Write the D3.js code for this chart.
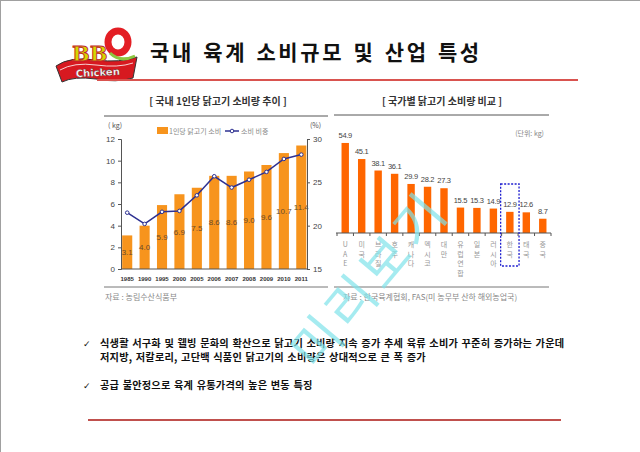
<!DOCTYPE html>
<html><head><meta charset="utf-8">
<script src="https://cdn.jsdelivr.net/npm/d3@7"></script>
<style>html,body{margin:0;padding:0;background:#fff;}svg{display:block;}</style>
</head><body>
<script>
// ---- data ----
const years = ["1985","1990","1995","2000","2005","2006","2007","2008","2009","2010","2011"];
const perCapita = [3.1,4.0,5.9,6.9,7.5,8.6,8.6,9.0,9.6,10.7,11.4];
const share = [21.5,20.2,21.6,21.7,23.5,25.7,24.4,25.3,26.2,27.7,28.2];
const leftTicks = [0,2,4,6,8,10,12];
const rightTicks = [15,20,25,30];
const countries = ["UAE","미국","브라질","호주","캐나다","멕시코","대만","유럽연합","일본","러시아","한국","태국","중국"];
const countryValues = [54.9,45.1,38.1,36.1,29.9,28.2,27.3,15.5,15.3,14.9,12.9,12.6,8.7];
const bullets = [
  ["식생활 서구화 및 웰빙 문화의 확산으로 닭고기 소비량 지속 증가 추세 육류 소비가 꾸준히 증가하는 가운데","저지방, 저칼로리, 고단백 식품인 닭고기의 소비량은 상대적으로 큰 폭 증가"],
  ["공급 불안정으로 육계 유통가격의 높은 변동 특징"]
];

const KR = "'Noto Sans CJK KR','Noto Sans',sans-serif";
const W=640,H=452;
const svg=d3.select("body").append("svg").attr("width",W).attr("height",H);
svg.append("rect").attr("x",0.5).attr("y",0.5).attr("width",W).attr("height",H).attr("fill","#fff").attr("stroke","#a0a0a0");

// ---- logo ----
const logo=svg.append("g");
logo.append("path").attr("d","M56,66 Q70,56 96,60 Q120,63 137,57 L133,78 Q116,83 96,79 Q74,76 62,82 Z").attr("fill","#d71920").attr("stroke","#333").attr("stroke-width",1);
logo.append("path").attr("d","M60,70 Q74,62 96,65 Q118,68 133,63").attr("fill","none").attr("stroke","#fff").attr("stroke-width",0.8);
logo.append("ellipse").attr("cx",118).attr("cy",42).attr("rx",10).attr("ry",11).attr("fill","none").attr("stroke","#e31e24").attr("stroke-width",7);
logo.append("path").attr("d","M110,53 Q120,63 135,56").attr("fill","none").attr("stroke","#8cc63f").attr("stroke-width",3);
logo.append("text").attr("x",72).attr("y",61).attr("font-family","'DejaVu Serif',serif").attr("font-weight","bold").attr("font-size",21).attr("fill","#d4d800").attr("stroke","#c1272d").attr("stroke-width",0.9).text("BB");
logo.append("text").attr("x",98).attr("y",76).attr("font-family","'DejaVu Sans',sans-serif").attr("font-weight","bold").attr("font-size",10).attr("fill","#fff").attr("stroke","#333").attr("stroke-width",0.3).attr("text-anchor","middle").attr("transform","rotate(-3,98,76)").text("Chicken");

// ---- title ----
svg.append("text").attr("x",150).attr("y",60).attr("font-family",KR).attr("font-weight","bold").attr("font-size",21).attr("fill","#111").attr("letter-spacing",2.6).attr("word-spacing",2).text("국내 육계 소비규모 및 산업 특성");
svg.append("line").attr("x1",97).attr("x2",578).attr("y1",80).attr("y2",80).attr("stroke","#d9534f").attr("stroke-width",2);

// ---- left chart ----
const L=svg.append("g");
L.append("text").attr("x",218).attr("y",105).attr("text-anchor","middle").attr("font-family",KR).attr("font-weight","bold").attr("font-size",10).attr("fill","#333").text("[ 국내 1인당 닭고기 소비량 추이 ]");
L.append("line").attr("x1",104).attr("x2",328).attr("y1",116).attr("y2",116).attr("stroke","#555").attr("stroke-width",1);
L.append("line").attr("x1",104).attr("x2",328).attr("y1",287).attr("y2",287).attr("stroke","#777").attr("stroke-width",1);
L.append("text").attr("x",105).attr("y",300).attr("font-family",KR).attr("font-size",8).attr("fill","#888").text("자료 :  농림수산식품부");

const xL=d3.scaleBand().domain(years).range([118.5,310]).paddingInner(0.42).paddingOuter(0.21);
const yL=d3.scaleLinear().domain([0,12]).range([269,139]);
const yR=d3.scaleLinear().domain([15,30]).range([269,139]);

L.selectAll("rect.bar").data(years).join("rect").attr("class","bar")
  .attr("x",d=>xL(d)).attr("width",xL.bandwidth())
  .attr("y",(d,i)=>yL(perCapita[i])).attr("height",(d,i)=>yL(0)-yL(perCapita[i]))
  .attr("fill","#f7941d");
L.selectAll("text.bv").data(years).join("text").attr("class","bv")
  .attr("x",d=>xL(d)+xL.bandwidth()/2).attr("y",(d,i)=>(yL(perCapita[i])+yL(0))/2+3)
  .attr("text-anchor","middle").attr("font-family","'Liberation Sans',sans-serif").attr("font-size",8).attr("fill","#6b4a2a")
  .text((d,i)=>perCapita[i].toFixed(1));

const axL=L.append("g").attr("transform","translate(121,0)").call(d3.axisLeft(yL).tickValues(leftTicks).tickSize(3).tickPadding(3));
axL.selectAll("text").attr("font-family","'Liberation Sans',sans-serif").attr("font-size",8).attr("fill","#444");
axL.selectAll("path,line").attr("stroke","#555");
const axR=L.append("g").attr("transform","translate(307,0)").call(d3.axisRight(yR).tickValues(rightTicks).tickSize(3).tickPadding(3));
axR.selectAll("text").attr("font-family","'Liberation Sans',sans-serif").attr("font-size",8).attr("fill","#444");
axR.selectAll("path,line").attr("stroke","#555");
const axB=L.append("g").attr("transform","translate(0,269)").call(d3.axisBottom(xL).tickSize(0).tickPadding(8));
axB.select("path").attr("d","M121,0H307").attr("stroke","#555");
axB.selectAll("text").attr("font-family","'Liberation Sans',sans-serif").attr("font-size",6).attr("font-weight","bold").attr("fill","#333");

const line=d3.line().x((d,i)=>xL(years[i])+xL.bandwidth()/2).y(d=>yR(d));
L.append("path").datum(share).attr("d",line).attr("fill","none").attr("stroke","#2e3192").attr("stroke-width",1.5);
L.selectAll("circle.pt").data(share).join("circle").attr("class","pt")
  .attr("cx",(d,i)=>xL(years[i])+xL.bandwidth()/2).attr("cy",d=>yR(d)).attr("r",1.8)
  .attr("fill","#fff").attr("stroke","#2e3192").attr("stroke-width",1);

L.append("text").attr("x",108).attr("y",128).attr("font-family",KR).attr("font-size",7).attr("fill","#555").text("( kg)");
L.append("text").attr("x",310).attr("y",128).attr("font-family",KR).attr("font-size",7).attr("fill","#555").text("(%)");
// legend
L.append("rect").attr("x",157).attr("y",127).attr("width",11).attr("height",7).attr("fill","#f7941d");
L.append("text").attr("x",169).attr("y",134).attr("font-family",KR).attr("font-size",7).attr("fill","#888").text("1인당 닭고기 소비");
L.append("line").attr("x1",225).attr("x2",239).attr("y1",131).attr("y2",131).attr("stroke","#2e3192").attr("stroke-width",1.5);
L.append("circle").attr("cx",232).attr("cy",131).attr("r",1.8).attr("fill","#fff").attr("stroke","#2e3192");
L.append("text").attr("x",241).attr("y",134).attr("font-family",KR).attr("font-size",7).attr("fill","#888").text("소비 비중");

// ---- right chart ----
const R=svg.append("g");
R.append("text").attr("x",442).attr("y",105).attr("text-anchor","middle").attr("font-family",KR).attr("font-weight","bold").attr("font-size",10).attr("fill","#333").text("[ 국가별 닭고기 소비량 비교 ]");
R.append("line").attr("x1",334).attr("x2",549).attr("y1",115).attr("y2",115).attr("stroke","#555").attr("stroke-width",1);
R.append("line").attr("x1",334).attr("x2",549).attr("y1",287).attr("y2",287).attr("stroke","#777").attr("stroke-width",1);
R.append("text").attr("x",343).attr("y",300).attr("font-family",KR).attr("font-size",8).attr("fill","#888").text("자료 : 한국육계협회, FAS(미 농무부 산하 해외농업국)");
R.append("text").attr("x",544).attr("y",136).attr("text-anchor","end").attr("font-family",KR).attr("font-size",7).attr("fill","#888").text("(단위: kg)");

const xC=d3.scaleBand().domain(countries).range([337,551]).paddingInner(0.55).paddingOuter(0.275);
const yC=d3.scaleLinear().domain([0,60]).range([233,134.6]);
R.selectAll("rect.cb").data(countries).join("rect").attr("class","cb")
  .attr("x",d=>xC(d)).attr("width",xC.bandwidth())
  .attr("y",(d,i)=>yC(countryValues[i])).attr("height",(d,i)=>yC(0)-yC(countryValues[i]))
  .attr("fill","#ff6600");
R.selectAll("text.cv").data(countries).join("text").attr("class","cv")
  .attr("x",d=>xC(d)+xC.bandwidth()/2).attr("y",(d,i)=>yC(countryValues[i])-5)
  .attr("text-anchor","middle").attr("font-family","'Liberation Sans Narrow','Liberation Sans',sans-serif").attr("font-size",7.5).attr("letter-spacing",-0.3).attr("fill","#444")
  .text((d,i)=>countryValues[i].toFixed(1));
const axC=R.append("g").attr("transform","translate(0,233)").call(d3.axisBottom(xC).tickSize(0).tickFormat(""));
axC.select("path").attr("d","M336,0H551").attr("stroke","#555");
R.selectAll("line.ct").data(d3.range(countries.length+1)).join("line").attr("class","ct")
  .attr("x1",i=>337+i*xC.step()).attr("x2",i=>337+i*xC.step()).attr("y1",233).attr("y2",236).attr("stroke","#555");
countries.forEach((c,i)=>{
  const chars = Array.from(c);
  chars.forEach((ch,j)=>{
    R.append("text").attr("x",xC(c)+xC.bandwidth()/2).attr("y",247+j*9.5)
      .attr("text-anchor","middle").attr("font-family",KR).attr("font-size",7).attr("fill","#999").text(ch);
  });
});
// highlight box around 한국
R.append("rect").attr("x",xC("한국")-5.5).attr("y",184).attr("width",xC.bandwidth()+11).attr("height",82)
  .attr("fill","none").attr("stroke","#1f1fd0").attr("stroke-width",1.3).attr("stroke-dasharray","2,1.5");

// ---- bullets ----
const B=svg.append("g").attr("font-family",KR).attr("font-weight","bold").attr("font-size",10.2).attr("fill","#111");
let y0=347;
bullets.forEach((lines,k)=>{
  B.append("text").attr("x",83).attr("y",y0).attr("font-weight","normal").attr("font-family","'DejaVu Sans',sans-serif").attr("font-size",9).text("✓");
  lines.forEach((t,j)=>{
    B.append("text").attr("x",100).attr("y",y0+j*14).attr("letter-spacing",0.2).attr("word-spacing",1).text(t);
  });
  y0 += lines.length*14 + 14;
});
svg.append("line").attr("x1",88).attr("x2",561).attr("y1",420).attr("y2",420).attr("stroke","#c0504d").attr("stroke-width",2);

// ---- watermark ----
svg.append("text").attr("transform","translate(384,292) rotate(-50)").attr("text-anchor","middle")
  .attr("font-family",KR).attr("font-size",52).attr("fill","#7fe3ea").attr("fill-opacity",0.7).attr("letter-spacing",5).text("미리보기");
</script>
</body></html>
